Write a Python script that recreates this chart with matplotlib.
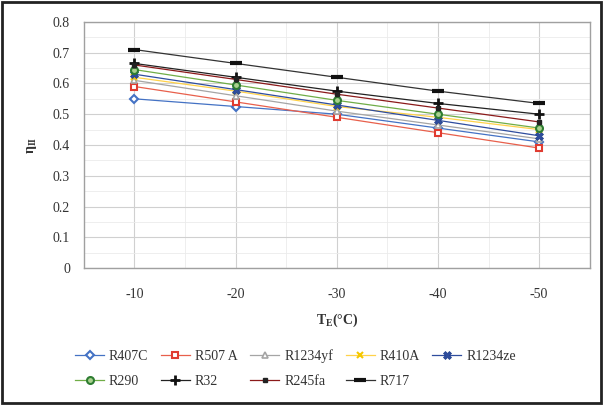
import matplotlib
matplotlib.use("Agg")
import matplotlib.pyplot as plt
from matplotlib.patches import Rectangle

plt.rcParams['font.family'] = ['Liberation Serif', 'DejaVu Serif']

categories = ["-10", "-20", "-30", "-40", "-50"]
R407C = [0.55, 0.525, 0.50, 0.455, 0.41]
R507A = [0.59, 0.54, 0.49, 0.44, 0.39]
R1234yf = [0.61, 0.56, 0.51, 0.465, 0.42]
R410A = [0.62, 0.575, 0.525, 0.49, 0.45]
R1234ze = [0.63, 0.58, 0.53, 0.48, 0.43]
R290 = [0.645, 0.595, 0.545, 0.50, 0.455]
R32 = [0.665, 0.62, 0.575, 0.535, 0.50]
R245fa = [0.66, 0.613, 0.565, 0.52, 0.475]
R717 = [0.71, 0.665, 0.62, 0.575, 0.535]

series = [
    ("R407C", R407C, dict(color="#4472C4", marker="D", mfc="white", mec="#4472C4", ms=4.5, mew=1.5)),
    ("R507 A", R507A, dict(color="#E8604C", marker="s", mfc="white", mec="#E03C31", ms=5, mew=1.5)),
    ("R1234yf", R1234yf, dict(color="#A5A5A5", marker="^", mfc="white", mec="#A5A5A5", ms=5, mew=1.2)),
    ("R410A", R410A, dict(color="#FFD24A", marker="x", mfc="none", mec="#F5C800", ms=5, mew=1.5)),
    ("R1234ze", R1234ze, dict(color="#2F4D9E", marker="X", mfc="#2F4D9E", mec="#1F3E8A", ms=5.5, mew=0.5)),
    ("R290", R290, dict(color="#70AD47", marker="o", mfc="#A9D18E", mec="#2E7D32", ms=5, mew=1.5)),
    ("R32", R32, dict(color="#222222", marker="+", mfc="none", mec="#111111", ms=7, mew=2)),
    ("R245fa", R245fa, dict(color="#8B1A1A", marker="s", mfc="#222222", mec="#222222", ms=2.5, mew=1)),
    ("R717", R717, dict(color="#333333", marker="_", mfc="#111111", mec="#111111", ms=8, mew=3)),
]

fig = plt.figure(figsize=(6.03, 4.05), dpi=100)
ax = fig.add_axes([0.139, 0.338, 0.839, 0.608])

x = list(range(len(categories)))
handles = []
for name, vals, st in series:
    ln, = ax.plot(x, vals, linewidth=0.9, label=name, **st)
    handles.append(ln)

ax.set_xlim(-0.5, len(categories) - 0.5)
ax.set_ylim(0, 0.8)
ax.set_yticks([0, 0.1, 0.2, 0.3, 0.4, 0.5, 0.6, 0.7, 0.8])
ax.set_yticklabels(["0", "0.1", "0.2", "0.3", "0.4", "0.5", "0.6", "0.7", "0.8"])
ax.set_xticks(x)
ax.set_xticklabels(categories)
ax.set_yticks([i * 0.05 for i in range(17)], minor=True)
ax.set_xticks([i - 0.5 for i in range(len(categories) + 1)], minor=True)
ax.grid(True, which="major", color="#D0D0D0", linewidth=0.8)
ax.grid(True, which="minor", color="#EBEBEB", linewidth=0.6)
ax.set_axisbelow(True)
ax.tick_params(axis="y", which="both", length=0, labelsize=10, colors="#333333", pad=10)
ax.tick_params(axis="x", which="both", length=0, labelsize=10, colors="#333333", pad=14)
for s in ax.spines.values():
    s.set_color("#A0A0A0")
    s.set_linewidth(1.0)

ax.set_xlabel(r"T$_\mathregular{E}$(°C)", fontsize=10, fontweight="bold", color="#333333", labelpad=8)
ax.set_ylabel(r"η$_\mathregular{II}$", fontsize=10, fontweight="bold", color="#333333", labelpad=10)

order = [0, 5, 1, 6, 2, 7, 3, 8, 4]
fig.legend(handles=[handles[i] for i in order], loc="upper center", bbox_to_anchor=(0.49, 0.168), ncol=5,
           frameon=False, fontsize=10, handlelength=2.1, columnspacing=0.9,
           handletextpad=0.35, labelspacing=0.85, labelcolor="#333333")

fig.patches.append(Rectangle((0.003, 0.004), 0.994, 0.992, transform=fig.transFigure,
                             fill=False, edgecolor="#222222", linewidth=2))

fig.savefig("out.png", dpi=100)
